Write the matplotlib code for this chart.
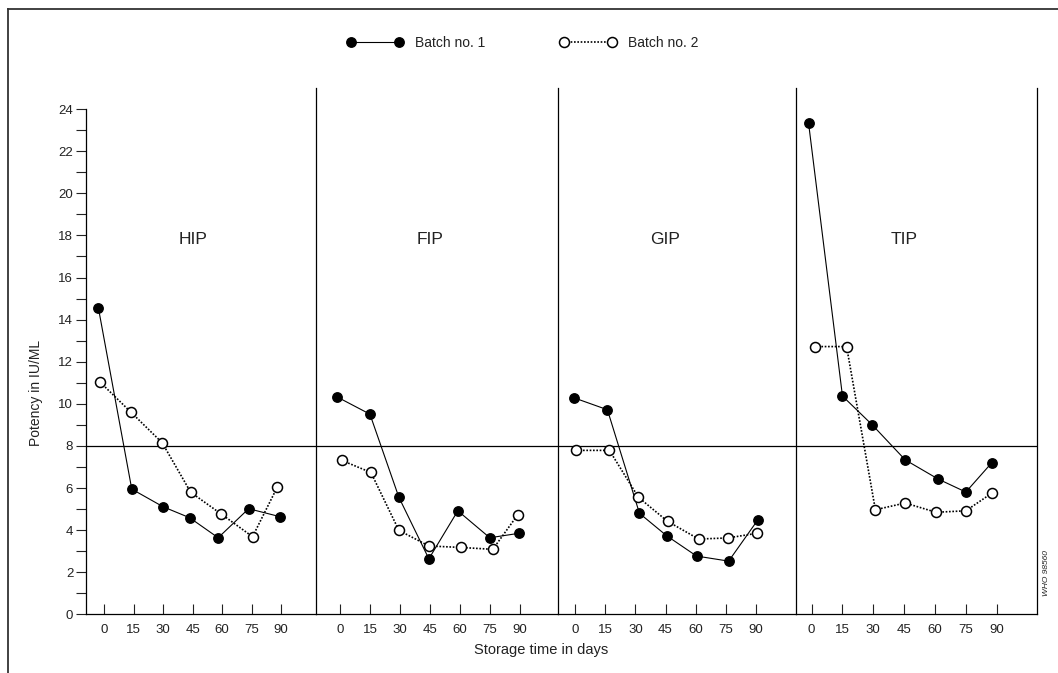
import matplotlib.pyplot as plt
from matplotlib.lines import Line2D

plt.rcParams['font.family'] = ['Liberation Sans', 'DejaVu Sans']
plt.rcParams['text.color'] = '#222222'
plt.rcParams['xtick.color'] = '#222222'
plt.rcParams['ytick.color'] = '#222222'

panels = ['HIP', 'FIP', 'GIP', 'TIP']
day_ticks = [0, 15, 30, 45, 60, 75, 90]
potency_ticks = list(range(0, 25, 2))
limit = 8

# batch no. 1 (storage day as plotted, potency in IU/ml)
hip_days_1 = [-3, 14, 30, 43.5, 58, 73.5, 89.5]
hip_pot_1 = [14.56, 5.95, 5.11, 4.59, 3.64, 5.02, 4.64]
fip_days_1 = [-1.5, 15, 29.5, 44.5, 59, 75, 89.5]
fip_pot_1 = [10.33, 9.51, 5.56, 2.64, 4.92, 3.64, 3.85]
gip_days_1 = [-0.5, 16, 32, 45.5, 60.5, 76.5, 91]
gip_pot_1 = [10.28, 9.72, 4.80, 3.74, 2.77, 2.53, 4.48]
tip_days_1 = [-1.5, 15, 29.5, 45.5, 61.5, 75, 87.5]
tip_pot_1 = [23.34, 10.37, 9.00, 7.34, 6.43, 5.81, 7.19]

# batch no. 2
hip_days_2 = [-2, 13.5, 29.5, 44, 59.5, 75.5, 88]
hip_pot_2 = [11.02, 9.61, 8.15, 5.80, 4.77, 3.69, 6.03]
fip_days_2 = [1, 15.5, 29.5, 44.5, 60.5, 76.5, 89]
fip_pot_2 = [7.31, 6.74, 3.99, 3.25, 3.18, 3.09, 4.73]
gip_days_2 = [0.5, 17, 31.5, 46, 61.5, 76, 90.5]
gip_pot_2 = [7.79, 7.79, 5.56, 4.42, 3.58, 3.63, 3.85]
tip_days_2 = [1.5, 17, 31, 45.5, 60.5, 75, 87.5]
tip_pot_2 = [12.72, 12.72, 4.97, 5.29, 4.85, 4.92, 5.75]

batch1 = [(hip_days_1, hip_pot_1), (fip_days_1, fip_pot_1),
          (gip_days_1, gip_pot_1), (tip_days_1, tip_pot_1)]
batch2 = [(hip_days_2, hip_pot_2), (fip_days_2, fip_pot_2),
          (gip_days_2, gip_pot_2), (tip_days_2, tip_pot_2)]

W, H = 1058, 673
fig = plt.figure(figsize=(W / 100, H / 100), dpi=100)

# panel edges in pixels and the day range each panel covers
edges = [86, 316, 557.5, 796, 1037]
xlims = [(-9.3, 107.8), (-12.0, 108.9), (-8.9, 110.1), (-7.6, 109.6)]
y0, y1 = 614.4, 88

solid = dict(color='black', lw=0.8, marker='o', ms=6.8, mfc='black', mec='black')
dotted = dict(color='black', lw=1.2, ls=(0, (1, 1)), marker='o', ms=7.2,
              mfc='white', mec='black', mew=1.1)

for i, name in enumerate(panels):
    ax = fig.add_axes([edges[i] / W, 1 - y0 / H,
                       (edges[i + 1] - edges[i]) / W, (y0 - y1) / H])
    ax.set_xlim(*xlims[i])
    ax.set_ylim(0, 25)
    ax.spines['top'].set_visible(False)
    ax.spines['right'].set_visible(i == len(panels) - 1)
    for sp in ax.spines.values():
        sp.set_linewidth(0.9)

    ax.set_xticks(day_ticks)
    ax.tick_params(axis='x', direction='in', length=7.2, width=0.8, pad=7, labelsize=9.5)

    if i == 0:
        ax.spines['left'].set_bounds(0, 24)
        ax.set_yticks(potency_ticks)
        ax.set_yticks(range(1, 24, 2), minor=True)
        ax.tick_params(axis='y', which='both', direction='out', length=7.2,
                       width=0.8, pad=2, labelsize=9.5)
    else:
        ax.tick_params(axis='y', left=False, labelleft=False)

    ax.axhline(limit, color='black', lw=0.9, zorder=1)

    d1, p1 = batch1[i]
    d2, p2 = batch2[i]
    ax.plot(d1, p1, zorder=3, **solid)
    ax.plot(d2, p2, zorder=4, **dotted)

    ax.text(45, 17.8, name, ha='center', va='center', fontsize=12.5)

handles = [Line2D([], [], **solid), Line2D([], [], **dotted)]
fig.legend(handles, ['Batch no. 1', 'Batch no. 2'], ncol=2, frameon=False,
           loc='center', bbox_to_anchor=(0.4938, 0.9366), fontsize=10,
           numpoints=2, handlelength=4.05, handletextpad=0.85, columnspacing=5.4)

fig.text(36 / W, 1 - 393 / H, 'Potency in IU/ML', rotation=90,
         ha='center', va='center', fontsize=10)
fig.text(541.5 / W, 1 - 650 / H, 'Storage time in days',
         ha='center', va='center', fontsize=10.5)
fig.text(1046 / W, 1 - 573 / H, 'WHO 98560', rotation=90, style='italic',
         ha='center', va='center', fontsize=6)

# frame lines along the top and left edge
fig.add_artist(Line2D([8 / W, 8 / W], [0, 1 - 9 / H], transform=fig.transFigure,
                      color='#333333', lw=1.3))
fig.add_artist(Line2D([8 / W, 1], [1 - 9 / H, 1 - 9 / H], transform=fig.transFigure,
                      color='#333333', lw=1.3))

fig.savefig('out.png', dpi=100)
